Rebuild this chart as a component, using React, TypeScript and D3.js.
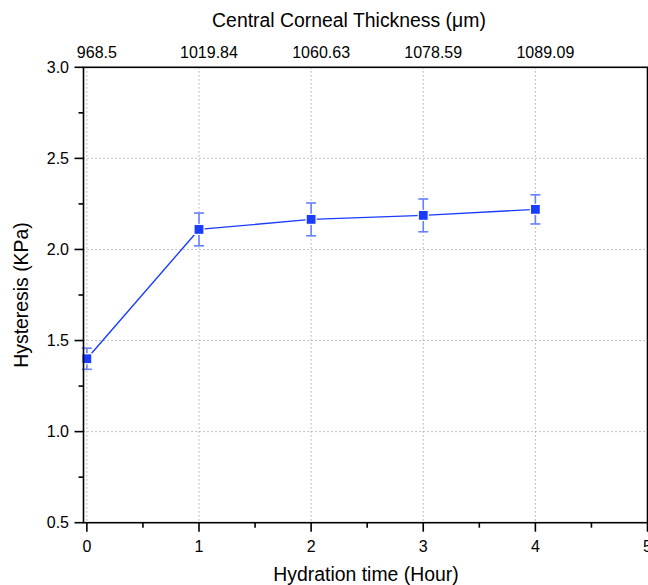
import React from "react";
import * as d3 from "d3";

// Hydration time (hours) and measured hysteresis
const hours = [0, 1, 2, 3, 4];
const hysteresis = [1.40, 2.11, 2.165, 2.187, 2.22];
const hysteresisErr = [0.058, 0.09, 0.09, 0.09, 0.08];
// Central corneal thickness shown on the top axis, one per hour
const thicknessLabels = ["968.5", "1019.84", "1060.63", "1078.59", "1089.09"];

const xMajor = [0, 1, 2, 3, 4, 5];
const xMinor = [0.5, 1.5, 2.5, 3.5, 4.5];
const yMajor = [0.5, 1.0, 1.5, 2.0, 2.5, 3.0];
const yMinor = [0.75, 1.25, 1.75, 2.25, 2.75];
const yGrid = [1.0, 1.5, 2.0, 2.5];
const xGrid = [0, 1, 2, 3, 4];

const W = 648;
const H = 585;
const FONT = "'Liberation Sans', Arial, sans-serif";

export default function App() {
  const x = d3.scaleLinear().domain([-0.03, 5]).range([83.5, 647.5]);
  const y = d3.scaleLinear().domain([0.5, 3.0]).range([522.7, 67.3]);
  const [x0, x1] = x.range();
  const [yb, yt] = y.range();

  const line = d3
    .line<number>()
    .x((_, i) => x(hours[i]))
    .y((d) => y(d));

  const blue = "#1a3cff";
  const errColor = "#6680ff";

  return (
    <svg
      width={W}
      height={H}
      style={{ position: "absolute", left: 0, top: 0, background: "#fff" }}
      fontFamily={FONT}
    >
      <rect x={0} y={0} width={W} height={H} fill="#fff" />
      {/* grid */}
      {yGrid.map((v) => (
        <line key={"gy" + v} x1={x0} x2={x1} y1={y(v)} y2={y(v)} stroke="#9a9a9a" strokeWidth={1} strokeDasharray="1.2,2.8" />
      ))}
      {xGrid.map((v) => (
        <line key={"gx" + v} x1={x(v)} x2={x(v)} y1={yt} y2={yb} stroke="#9a9a9a" strokeWidth={1} strokeDasharray="1.2,2.8" />
      ))}

      {/* series line */}
      <path d={line(hysteresis) || ""} fill="none" stroke={blue} strokeWidth={1.4} />

      {/* error bars */}
      {hysteresis.map((v, i) => {
        const cx = x(hours[i]);
        const top = y(v + hysteresisErr[i]);
        const bot = y(v - hysteresisErr[i]);
        return (
          <g key={"e" + i} stroke={errColor} strokeWidth={1.6}>
            <line x1={cx} x2={cx} y1={top} y2={bot} />
            <line x1={cx - 5} x2={cx + 5} y1={top} y2={top} />
            <line x1={cx - 5} x2={cx + 5} y1={bot} y2={bot} />
          </g>
        );
      })}

      {/* markers */}
      {hysteresis.map((v, i) => (
        <rect
          key={"m" + i}
          x={x(hours[i]) - 5}
          y={y(v) - 5}
          width={10}
          height={10}
          fill={blue}
          stroke="#fff"
          strokeWidth={1.2}
        />
      ))}

      {/* frame */}
      <rect x={x0} y={yt} width={x1 - x0} height={yb - yt} fill="none" stroke="#000" strokeWidth={1.6} />

      {/* bottom ticks */}
      {xMajor.map((v) => (
        <line key={"xt" + v} x1={x(v)} x2={x(v)} y1={yb} y2={yb + 9} stroke="#000" strokeWidth={1.6} />
      ))}
      {xMinor.map((v) => (
        <line key={"xm" + v} x1={x(v)} x2={x(v)} y1={yb} y2={yb + 5} stroke="#000" strokeWidth={1.6} />
      ))}
      {xMajor.map((v) => (
        <text key={"xl" + v} x={x(v)} y={552} fontSize={16} textAnchor="middle" fill="#000">
          {v}
        </text>
      ))}

      {/* left ticks */}
      {yMajor.map((v) => (
        <line key={"yt" + v} x1={x0 - 9} x2={x0} y1={y(v)} y2={y(v)} stroke="#000" strokeWidth={1.6} />
      ))}
      {yMinor.map((v) => (
        <line key={"ym" + v} x1={x0 - 5} x2={x0} y1={y(v)} y2={y(v)} stroke="#000" strokeWidth={1.6} />
      ))}
      {yMajor.map((v) => (
        <text key={"yl" + v} x={69} y={y(v) + 5.6} fontSize={16} textAnchor="end" fill="#000">
          {v.toFixed(1)}
        </text>
      ))}

      {/* top axis labels */}
      {thicknessLabels.map((t, i) => (
        <text key={"tl" + i} x={x(hours[i]) + 10} y={58} fontSize={16} textAnchor="middle" fill="#000">
          {t}
        </text>
      ))}

      {/* axis titles */}
      <text x={349} y={27} fontSize={19.4} textAnchor="middle" fill="#000">
        Central Corneal Thickness (μm)
      </text>
      <text x={366} y={581} fontSize={19.4} textAnchor="middle" fill="#000">
        Hydration time (Hour)
      </text>
      <text
        transform={`translate(28, ${(yt + yb) / 2}) rotate(-90)`}
        fontSize={19.4}
        textAnchor="middle"
        fill="#000"
      >
        Hysteresis (KPa)
      </text>
    </svg>
  );
}
